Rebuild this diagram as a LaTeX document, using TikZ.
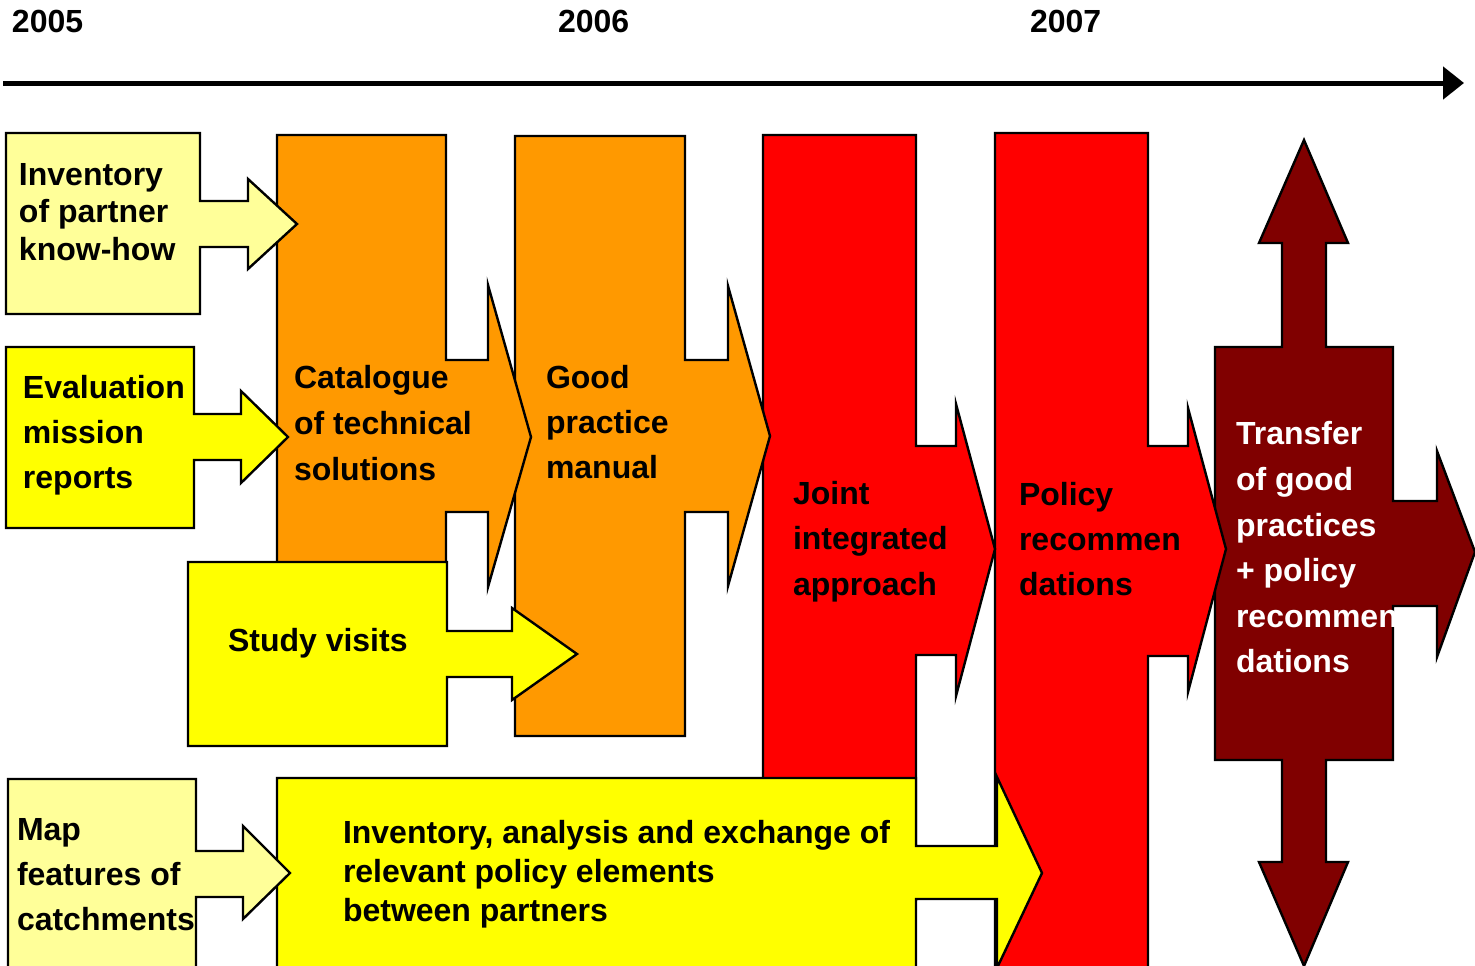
\documentclass[tikz,border=0pt]{standalone}
\usepackage{fontspec}
\setmainfont{Liberation Sans}
\usetikzlibrary{arrows.meta}
\definecolor{lyellow}{HTML}{FFFF99}
\definecolor{pyellow}{HTML}{FFFF00}
\definecolor{porange}{HTML}{FF9900}
\definecolor{pred}{HTML}{FF0000}
\definecolor{dred}{HTML}{800000}
\newcommand{\fsz}[1]{\fontsize{32}{#1}\selectfont\bfseries}
\tikzset{
  shp/.style={draw=black, line width=2.4pt, line join=miter},
  lbl/.style={anchor=north west, inner sep=0pt, outer sep=0pt, align=left, text=black},
}
\begin{document}
\begin{tikzpicture}[x=1pt,y=-1pt]
\useasboundingbox (0,0) rectangle (1475,966);
\clip (0,0) rectangle (1475,966);

% timeline
\coordinate (t0) at (3,83);
\coordinate (t1) at (1464,83);
\draw[line width=5pt, -{Triangle[length=21pt,width=32pt]}] (t0) -- (t1);
\node[lbl, font=\fsz{45}] (y2005) at (12,1.5) {\strut 2005};
\node[lbl, font=\fsz{45}] (y2006) at (558,1.5) {\strut 2006};
\node[lbl, font=\fsz{45}] (y2007) at (1030,1.5) {\strut 2007};

% Transfer
\path[shp, fill=dred] (1215,347) -- (1282,347) -- (1282,243) -- (1259,243) -- (1304,140) -- (1348,243) -- (1326,243) -- (1326,347) -- (1393,347) -- (1393,501) -- (1437,501) -- (1437,451) -- (1475,552) -- (1437,657) -- (1437,606) -- (1393,606) -- (1393,760) -- (1326,760) -- (1326,862) -- (1348,862) -- (1304,966) -- (1259,862) -- (1282,862) -- (1282,760) -- (1215,760) -- cycle;
\node[lbl, text=white, font=\fsz{45.6}] (transfer) at (1236,413) {\strut Transfer\\of good\\practices\\+ policy\\recommen\\dations};

% Policy recommendations
\path[shp, fill=pred] (995,133) -- (1148,133) -- (1148,446) -- (1188,446) -- (1188,408) -- (1226,549) -- (1188,692) -- (1188,656) -- (1148,656) -- (1148,990) -- (995,990) -- cycle;
\node[lbl, font=\fsz{45}] (policy) at (1019,473.5) {\strut Policy\\recommen\\dations};

% Joint integrated approach
\path[shp, fill=pred] (763,135) -- (916,135) -- (916,446) -- (956,446) -- (956,404) -- (995,549) -- (956,696) -- (956,655) -- (916,655) -- (916,900) -- (763,900) -- cycle;
\node[lbl, font=\fsz{45.5}] (joint) at (793,472.5) {\strut Joint\\integrated\\approach};

% Good practice manual
\path[shp, fill=porange] (515,136) -- (685,136) -- (685,360) -- (728,360) -- (728,286) -- (770,436) -- (728,586) -- (728,512) -- (685,512) -- (685,736) -- (515,736) -- cycle;
\node[lbl, font=\fsz{45}] (manual) at (546,356.5) {\strut Good\\practice\\manual};

% Catalogue
\path[shp, fill=porange] (277,135) -- (446,135) -- (446,360) -- (488,360) -- (488,285) -- (531,437) -- (488,587) -- (488,512) -- (446,512) -- (446,740) -- (277,740) -- cycle;
\node[lbl, font=\fsz{46}] (catalogue) at (294,356.5) {\strut Catalogue\\of technical\\solutions};

% Inventory of partner know-how
\path[shp, fill=lyellow] (6,133) -- (200,133) -- (200,201) -- (248,201) -- (248,179) -- (297,224) -- (248,269) -- (248,247) -- (200,247) -- (200,314) -- (6,314) -- cycle;
\node[lbl, font=\fsz{37.5}] (knowhow) at (19,158.8) {\strut Inventory\\of partner\\know-how};

% Evaluation mission reports
\path[shp, fill=pyellow] (6,347) -- (194,347) -- (194,414) -- (241,414) -- (241,391) -- (288,437) -- (241,483) -- (241,460) -- (194,460) -- (194,528) -- (6,528) -- cycle;
\node[lbl, font=\fsz{45}] (evaluation) at (23,366.5) {\strut Evaluation\\mission\\reports};

% Study visits
\path[shp, fill=pyellow] (188,562) -- (447,562) -- (447,631) -- (512,631) -- (512,608) -- (577,654) -- (512,700) -- (512,677) -- (447,677) -- (447,746) -- (188,746) -- cycle;
\node[lbl, font=\fsz{45}] (study) at (228,619.5) {\strut Study visits};

% Inventory, analysis and exchange
\path[shp, fill=pyellow] (277,778) -- (916,778) -- (916,846) -- (997,846) -- (997,777) -- (1042,873) -- (997,968) -- (997,899) -- (916,899) -- (916,990) -- (277,990) -- cycle;
\node[lbl, font=\fsz{39}] (exchange) at (343,815.7) {\strut Inventory, analysis and exchange of\\relevant policy elements\\between partners};

% Map features of catchments
\path[shp, fill=lyellow] (8,779) -- (196,779) -- (196,851) -- (243,851) -- (243,826) -- (290,873) -- (243,919) -- (243,897) -- (196,897) -- (196,990) -- (8,990) -- cycle;
\node[lbl, font=\fsz{45}] (map) at (17,808.5) {\strut Map\\features of\\catchments};
\end{tikzpicture}
\end{document}
